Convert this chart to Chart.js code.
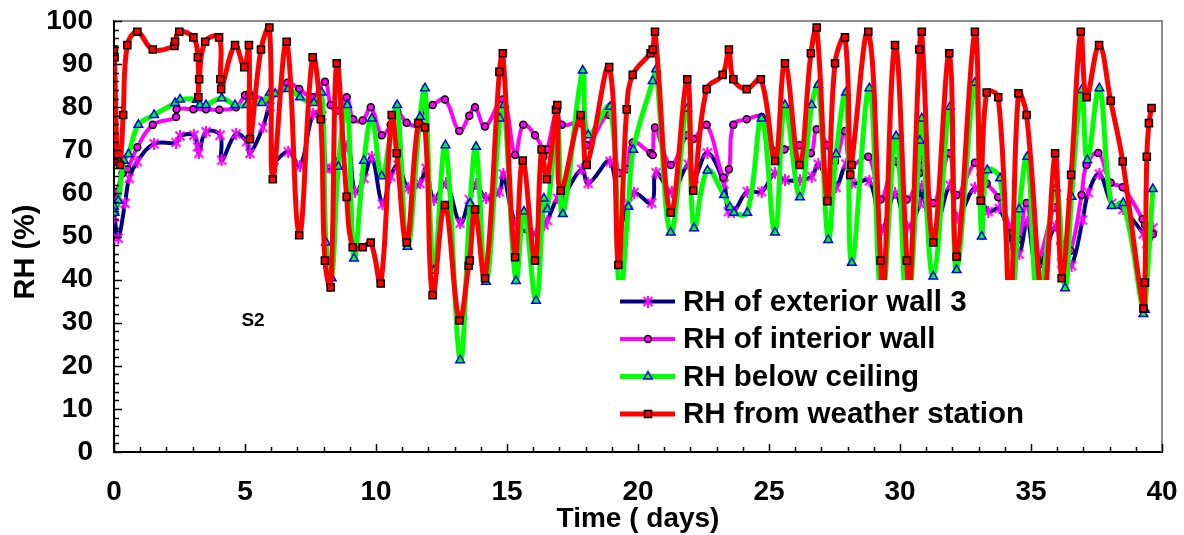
<!DOCTYPE html>
<html><head><meta charset="utf-8">
<script src="https://cdn.jsdelivr.net/npm/chart.js@4/dist/chart.umd.min.js"></script>
<style>html,body{margin:0;padding:0;background:#fff;overflow:hidden}canvas{display:block}</style>
</head><body>
<canvas id="c" width="1184" height="535"></canvas>
<script>
// ---- data (days, RH %) ----
const extDays = [0.00,0.02,0.16,0.42,0.58,0.89,1.53,2.37,2.52,3.05,3.19,3.24,3.51,4.05,4.11,4.66,5.06,5.19,5.68,5.95,6.10,6.65,7.10,7.60,7.93,8.09,8.31,8.90,9.20,9.54,9.84,10.25,10.56,10.85,11.23,11.68,11.91,12.21,12.67,13.21,13.56,13.82,14.20,14.71,14.86,15.34,16.11,16.41,16.54,16.92,17.09,17.85,18.10,18.93,19.28,19.63,19.85,20.52,20.69,21.29,21.92,22.14,22.65,23.28,23.45,23.66,24.17,24.72,25.23,25.61,26.18,26.63,26.88,27.26,27.56,27.94,28.16,28.83,29.30,29.81,30.28,30.76,30.83,31.27,31.91,32.19,32.86,33.37,33.79,34.30,34.55,34.86,35.24,35.95,36.17,36.30,36.55,36.97,37.19,37.61,38.08,38.52,39.29,39.42,39.65];
const extRH   = [56.0,54.5,49.6,57.7,63.5,67.4,71.5,71.8,73.3,73.5,70.8,69.3,74.3,73.5,67.7,73.8,72.0,69.3,75.3,80.1,67.7,69.7,66.4,78.4,78.0,65.8,65.8,71.0,60.4,63.5,68.4,57.5,63.9,66.6,61.2,62.3,65.8,58.5,62.3,53.1,58.6,62.2,58.9,60.4,64.5,53.1,50.6,52.7,53.7,58.9,58.9,65.6,62.3,67.4,52.4,57.7,60.2,57.8,64.8,60.4,66.8,63.5,69.4,62.2,55.8,55.8,60.4,60.4,64.7,63.1,63.1,63.9,66.8,62.7,61.4,66.8,62.3,62.9,51.5,60.0,52.3,57.7,61.7,50.6,61.9,54.2,61.2,55.8,56.5,47.8,45.9,53.4,42.4,52.4,43.8,43.6,43.2,53.8,60.2,64.5,57.7,56.3,50.6,48.4,52.0];

const intDays = [0.00,0.08,0.13,0.33,0.51,0.89,1.48,2.37,2.39,3.03,3.51,4.02,4.66,5.00,5.16,5.93,6.61,7.07,7.58,8.05,8.27,8.50,8.88,9.13,9.49,9.80,10.22,10.56,10.81,11.17,11.61,11.87,12.16,12.63,13.18,13.56,13.78,14.16,14.84,15.31,15.62,16.07,16.36,16.39,16.54,16.90,17.09,17.81,18.04,18.90,19.27,19.57,19.80,20.48,20.56,20.65,21.25,21.88,22.11,22.62,23.26,23.47,23.64,24.15,24.72,25.23,25.59,26.16,26.60,26.82,27.23,27.52,27.90,28.12,28.79,29.26,29.81,30.26,30.74,30.80,31.27,31.88,32.16,32.86,33.08,33.31,33.75,34.30,34.52,34.83,35.24,35.92,36.13,36.23,36.51,36.93,37.12,37.57,38.04,38.50,39.26,39.35,39.48,39.65];
const intRH   = [55.5,57.5,60.4,64.7,65.6,70.7,75.9,77.7,79.5,79.5,79.5,79.4,80.0,82.8,83.1,81.8,85.7,84.2,82.3,85.9,80.5,79.2,82.3,77.2,76.9,80.0,73.5,75.9,79.0,76.4,75.9,79.5,80.5,81.8,74.5,78.0,80.0,75.5,81.8,68.9,75.9,73.5,70.2,68.5,70.2,79.2,75.9,76.3,71.2,78.2,64.7,65.6,71.8,69.3,68.9,75.3,66.6,73.5,72.6,75.9,63.7,65.6,75.9,77.2,77.7,69.7,70.2,71.2,69.3,74.9,71.2,67.4,74.5,66.6,68.5,58.6,67.4,58.6,64.7,67.9,57.7,69.3,59.6,67.1,64.3,62.3,59.1,50.9,49.3,57.8,44.7,56.8,48.4,46.7,46.7,59.6,66.6,69.4,62.5,61.4,54.0,52.7,49.3,50.5];

const ceilDays = [0.00,0.02,0.16,0.38,0.55,0.93,1.53,2.33,2.52,3.16,3.28,3.51,4.11,4.62,5.06,5.19,5.64,5.95,6.15,6.65,7.10,7.63,7.93,8.09,8.31,8.56,8.90,9.16,9.54,9.84,10.22,10.60,10.81,11.20,11.68,11.87,12.21,12.65,13.21,13.59,13.82,14.20,14.73,14.89,15.34,15.65,16.11,16.41,16.54,16.92,17.13,17.89,18.10,18.93,19.30,19.63,19.82,20.56,20.69,21.25,21.88,22.14,22.65,23.28,23.51,23.66,24.17,24.72,25.23,25.61,26.18,26.63,26.88,27.26,27.56,27.94,28.16,28.83,29.30,29.85,30.27,30.76,30.83,31.27,31.91,32.16,32.86,33.12,33.33,33.82,34.26,34.55,34.86,35.27,35.95,36.30,36.55,36.93,37.15,37.61,38.08,38.52,39.29,39.35,39.65];
const ceilRH   = [56.9,55.5,58.3,67.6,69.1,75.9,78.2,81.0,81.8,81.7,80.5,80.5,82.1,80.5,80.5,82.4,81.0,83.4,83.1,84.2,82.3,81.0,83.4,48.6,40.3,66.2,80.5,44.9,67.6,77.4,64.0,75.1,80.5,47.6,77.7,84.4,42.1,71.2,21.3,57.7,70.8,39.5,77.4,80.5,39.7,55.8,35.1,58.8,56.3,75.9,55.2,88.5,73.5,80.1,36.0,56.9,70.1,86.1,88.8,50.9,79.7,51.9,65.3,59.6,56.8,55.5,55.5,77.4,50.9,80.5,59.1,80.5,85.2,49.2,69.1,83.4,43.9,84.4,35.0,73.3,33.0,72.2,77.4,40.7,80.1,42.2,85.7,50.0,65.4,63.5,35.0,56.3,68.5,35.0,61.2,38.0,59.2,84.0,67.7,84.4,57.1,57.8,32.0,33.0,61.0];

const wsDays = [0.00,0.02,0.13,0.23,0.35,0.51,0.89,1.48,2.31,2.33,2.49,3.03,3.20,3.22,3.25,3.48,4.01,4.06,4.09,4.62,4.97,5.15,5.19,5.61,5.93,6.06,6.59,7.07,7.58,7.89,8.05,8.27,8.50,8.88,9.11,9.49,9.80,10.18,10.60,10.79,11.17,11.61,11.87,12.16,12.63,13.18,13.54,13.58,13.78,14.16,14.71,14.84,15.31,15.60,16.07,16.32,16.52,16.87,16.92,17.05,17.81,18.04,18.90,19.25,19.57,19.80,20.48,20.56,20.65,21.25,21.88,22.11,22.62,23.23,23.47,23.64,24.15,24.69,25.23,25.61,26.16,26.60,26.82,27.23,27.52,27.90,28.10,28.15,28.79,29.26,29.36,29.81,30.26,30.36,30.74,30.83,31.27,31.88,32.16,32.86,33.08,33.31,33.75,34.20,34.52,34.83,35.46,35.92,36.17,36.53,36.90,37.12,37.60,38.04,38.50,39.29,39.35,39.42,39.50,39.60];
const wsRH   = [93.4,91.6,67.4,66.6,78.2,94.4,97.5,93.4,94.2,95.2,97.5,96.2,91.6,82.3,86.5,95.2,96.2,86.5,84.2,94.4,89.3,94.4,72.6,93.4,98.5,63.3,95.2,50.3,91.6,77.2,44.4,38.2,90.2,59.2,47.5,47.5,48.6,39.1,78.2,69.3,48.6,76.3,75.3,36.4,57.3,30.5,43.2,44.4,56.3,40.3,88.2,92.5,45.2,67.6,44.4,70.2,63.3,79.4,80.5,60.6,78.2,66.6,89.3,43.4,79.5,87.5,92.5,93.4,97.5,55.5,86.5,60.6,84.2,87.5,93.4,86.5,84.2,86.5,67.5,90.2,66.6,92.5,98.5,58.2,90.2,96.2,64.3,66.6,97.5,44.4,35.0,94.4,44.4,35.0,93.4,97.5,48.6,92.5,45.3,97.5,58.3,83.4,82.3,34.0,83.2,78.2,35.0,69.3,40.3,64.3,97.5,82.3,94.4,81.5,67.4,33.3,39.3,68.5,76.3,79.8];

const xTickValues = [0,5,10,15,20,25,30,35,40];
const yTickValues = [0,10,20,30,40,50,60,70,80,90,100];
const legendLabels = ['RH of exterior wall 3','RH of interior wall','RH below ceiling','RH from weather station'];

const pts = (xs, ys) => xs.map((x, i) => ({x: x, y: ys[i]}));
const FONT = "'Liberation Sans', Arial, sans-serif";

// Excel-style asterisk marker (X plus vertical bar)
function makeAsterisk() {
  const c = document.createElement('canvas');
  c.width = 12; c.height = 12;
  const g = c.getContext('2d');
  g.strokeStyle = '#FF00FF'; g.lineWidth = 2; g.lineCap = 'butt';
  g.beginPath();
  g.moveTo(1.5, 1.5); g.lineTo(10.5, 10.5);
  g.moveTo(10.5, 1.5); g.lineTo(1.5, 10.5);
  g.moveTo(6, 0); g.lineTo(6, 12);
  g.stroke();
  return c;
}
const asterisk = makeAsterisk();

const styles = [
  {line:'#000080', lw:4, ps:asterisk, r:5, bg:'#FF00FF', bc:'#FF00FF', bw:2},
  {line:'#FF00FF', lw:4, ps:'circle', r:3.5, bg:'#FF00FF', bc:'#000000', bw:1.5},
  {line:'#00FF00', lw:5, ps:'triangle', r:5, bg:'#00FF00', bc:'#0000FF', bw:1.5},
  {line:'#FF0000', lw:5, ps:'rect', r:5, bg:'#FF0000', bc:'#000000', bw:1.5}
];
const seriesData = [pts(extDays, extRH), pts(intDays, intRH), pts(ceilDays, ceilRH), pts(wsDays, wsRH)];

const datasets = seriesData.map((d, i) => ({
  label: legendLabels[i], data: d, showLine: true, tension: 0.4,
  borderColor: styles[i].line, borderWidth: styles[i].lw,
  pointStyle: styles[i].ps, pointRadius: styles[i].r,
  pointBackgroundColor: styles[i].bg, pointBorderColor: styles[i].bc,
  pointBorderWidth: styles[i].bw, order: 3 - i
}));

const decor = {
  id: 'decor',
  afterDraw(chart) {
    const ctx = chart.ctx, a = chart.chartArea;
    const xs = chart.scales.x, ys = chart.scales.y;
    ctx.save();
    // legend box (white, covering the lines behind it)
    ctx.fillStyle = '#fff';
    ctx.fillRect(607, 280, 450, 163);
    const ly = [301.5, 339, 376.5, 414];
    for (let i = 0; i < 4; i++) {
      const s = styles[i];
      ctx.strokeStyle = s.line; ctx.lineWidth = s.lw; ctx.lineCap = 'butt';
      ctx.beginPath(); ctx.moveTo(620, ly[i]); ctx.lineTo(675, ly[i]); ctx.stroke();
      ctx.fillStyle = s.bg; ctx.strokeStyle = s.bc; ctx.lineWidth = s.bw;
      Chart.helpers.drawPoint(ctx, {pointStyle: s.ps, radius: s.r, rotation: 0, borderWidth: s.bw}, 648, ly[i]);
      ctx.fillStyle = '#000'; ctx.font = 'bold 29.5px ' + FONT;
      ctx.textAlign = 'left'; ctx.textBaseline = 'middle';
      ctx.fillText(legendLabels[i], 683, ly[i] + 1);
    }
    // top/right border
    ctx.strokeStyle = '#8c8c8c'; ctx.lineWidth = 2;
    ctx.beginPath(); ctx.moveTo(a.left, a.top); ctx.lineTo(a.right, a.top); ctx.lineTo(a.right, a.bottom); ctx.stroke();
    // inward ticks
    ctx.strokeStyle = '#000'; ctx.lineWidth = 1.5;
    ctx.beginPath();
    for (let v = 0; v <= 100; v += 2) {
      const y = Math.round(ys.getPixelForValue(v)) + 0.5;
      const len = v % 10 === 0 ? 8 : 5;
      ctx.moveTo(a.left, y); ctx.lineTo(a.left + len, y);
    }
    for (let v = 0; v <= 40; v += 1) {
      const x = Math.round(xs.getPixelForValue(v)) + 0.5;
      const len = v % 5 === 0 ? 8 : 5;
      ctx.moveTo(x, a.bottom); ctx.lineTo(x, a.bottom - len);
    }
    ctx.stroke();
    // axis titles and annotation
    ctx.fillStyle = '#000';
    ctx.font = 'bold 28px ' + FONT; ctx.textAlign = 'center'; ctx.textBaseline = 'middle';
    ctx.fillText('Time ( days)', 638, 519);
    ctx.font = 'bold 19px ' + FONT;
    ctx.fillText('S2', 253, 321);
    ctx.translate(26, 252); ctx.rotate(-Math.PI / 2);
    ctx.font = 'bold 29px ' + FONT;
    ctx.fillText('RH (%)', 0, 0);
    ctx.restore();
  }
};

new Chart(document.getElementById('c'), {
  type: 'scatter',
  data: { datasets: datasets },
  options: {
    responsive: false, animation: false, devicePixelRatio: 1,
    layout: { autoPadding: false, padding: { left: 0, right: 22, top: 21, bottom: 0 } },
    plugins: { legend: { display: false }, tooltip: { enabled: false } },
    scales: {
      x: {
        type: 'linear', min: 0, max: 40,
        afterFit(s) { s.height = 83; s.paddingLeft = 0; s.paddingRight = 0; },
        afterBuildTicks(s) { s.ticks = xTickValues.map(v => ({ value: v })); },
        grid: { display: false, drawTicks: false },
        border: { display: true, color: '#000', width: 2 },
        ticks: { font: { family: FONT, weight: 'bold', size: 28 }, color: '#000', padding: 23, maxRotation: 0, autoSkip: false }
      },
      y: {
        type: 'linear', min: 0, max: 100,
        afterFit(s) { s.width = 114; s.paddingTop = 0; s.paddingBottom = 0; },
        afterBuildTicks(s) { s.ticks = yTickValues.map(v => ({ value: v })); },
        grid: { display: false, drawTicks: false },
        border: { display: true, color: '#000', width: 2 },
        ticks: { font: { family: FONT, weight: 'bold', size: 28 }, color: '#000', padding: 21, autoSkip: false }
      }
    }
  },
  plugins: [decor]
});
</script>
</body></html>
